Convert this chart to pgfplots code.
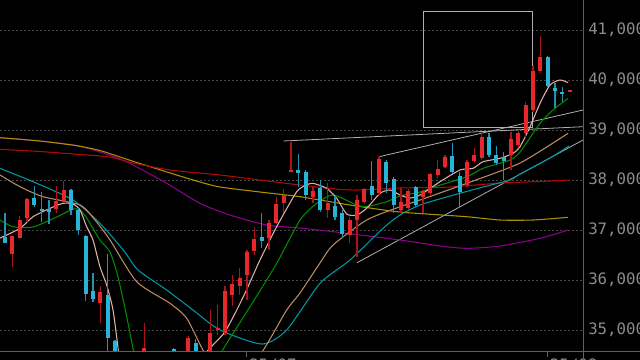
\documentclass[border=0pt]{standalone}
\usepackage{pgfplots}
\pgfplotsset{compat=1.18}
\usepackage{pgfplotstable}
\usepackage{fontspec}
\newfontfamily\labelfont{DejaVu Sans Mono}
\definecolor{candleRed}{RGB}{230,40,45}
\definecolor{wickRed}{RGB}{170,20,25}
\definecolor{candleBlue}{RGB}{40,180,215}
\definecolor{wickBlue}{RGB}{35,145,175}
\definecolor{maPink}{RGB}{225,175,165}
\definecolor{maGreen}{RGB}{0,140,0}
\definecolor{maTan}{RGB}{185,140,100}
\definecolor{maTeal}{RGB}{0,150,165}
\definecolor{maRed}{RGB}{175,10,10}
\definecolor{maYellow}{RGB}{175,145,0}
\definecolor{maPurple}{RGB}{140,0,140}
\definecolor{lineGray}{RGB}{175,175,175}
\definecolor{gridGray}{RGB}{70,70,70}
\definecolor{axGray}{RGB}{95,95,95}
\definecolor{txtGray}{RGB}{140,140,140}

\pgfplotstableread{
i O H L C
1 36514 36880 36266 36880
2 36846 37280 36834 37200
3 37234 37646 37166 37614
7 37420 37880 37334 37586
8 37566 37980 37534 37800
13 35546 35880 35134 35766
17 34000 34400 33900 34200
19 34400 35146 34300 34646
22 33900 34450 33800 34300
24 34300 34550 34200 34500
25 34500 34880 34400 34846
28 34550 35400 34450 34934
29 35000 35500 34900 35034
30 34934 35880 34900 35786
31 35700 36100 35480 35914
32 35880 36234 35700 36034
33 36100 36600 35600 36554
34 36586 37054 36500 36814
36 36834 37200 36600 37134
37 37146 37666 37120 37520
38 37546 37814 37334 37700
39 38166 38766 38160 38200
42 37666 37866 37534 37786
44 37400 37934 37234 37534
47 36900 37266 36740 37200
48 37200 37700 36466 37600
49 37566 37840 37530 37814
51 37746 38480 37700 38414
54 37400 37834 37334 37560
55 37440 37820 37400 37780
57 37666 37800 37340 37786
58 37746 38150 37700 38120
59 38100 38400 38040 38214
60 38266 38500 38240 38454
63 37900 38400 37860 38366
64 38386 38640 38340 38500
65 38434 38966 38400 38866
69 38500 38966 38200 38814
70 38700 38980 38660 38934
71 38946 39566 38866 39494
72 39400 40280 39360 40186
73 40186 40880 40146 40454
77 39780 39800 39770 39800
}\upT

\pgfplotstableread{
i O H L C
0 36854 37346 36740 36746
4 37646 37880 37466 37500
5 37420 37766 37154 37380
6 37420 37600 37120 37354
9 37800 37814 37300 37400
10 37400 37434 36900 37000
11 36886 36900 35586 35720
12 35780 36134 35566 35620
14 35700 36514 34500 34846
15 34786 34800 34300 34400
16 34400 34500 34000 34100
18 34200 34300 33800 33900
20 34500 34550 34100 34200
21 34200 34300 33700 33900
23 34620 34640 34200 34300
26 34746 34814 34400 34500
27 34500 34560 34200 34300
35 36854 37346 36634 36786
40 38200 38514 37866 38134
41 38166 38200 37600 37700
43 37834 38000 37366 37400
45 37480 37680 37200 37254
46 37334 37400 36834 36920
50 37880 38386 37600 37700
52 38366 38400 37734 37934
53 38014 38066 37334 37500
56 37854 37880 37460 37500
61 38480 38746 38134 38166
62 38080 38166 37466 37766
66 38854 38946 38460 38500
67 38500 38680 38300 38346
68 38466 38566 38000 38386
74 40466 40480 39860 39880
75 39846 39934 39434 39786
76 39766 39854 39566 39714
}\downT

\begin{document}
\begin{tikzpicture}
\clip (0,-270pt) rectangle (480pt,0pt);
\fill[black] (0,-270pt) rectangle (480pt,0pt);
\begin{axis}[
  at={(0,0)}, anchor=north west,
  scale only axis, width=437.25pt, height=263.8pt,
  xmin=-0.682, xmax=78.82, ymin=34566, ymax=41600,
  axis x line*=bottom, axis y line*=right,
  axis line style={draw=none},
  ytick={35000,36000,37000,38000,39000,40000,41000},
  yticklabels={{35,000},{36,000},{37,000},{38,000},{39,000},{40,000},{41,000}},
  xtick={33,74}, xticklabels={25/07,25/08},
  tick align=outside, major tick length=3.75pt,
  xtick style={draw=axGray, line width=0.75pt},
  ytick style={draw=none},
  tick label style={font=\labelfont\fontsize{11.8}{13}\selectfont, text=txtGray, inner sep=0pt},
  yticklabel style={anchor=west, xshift=0pt},
  xticklabel style={anchor=north west, xshift=1.5pt, yshift=-1pt},
  ymajorgrids=true,
  grid style={draw=gridGray, line width=0.6pt, dash pattern=on 1.5pt off 1.5pt},
  clip=true,
]
% drawing rectangle and trend lines
\addplot[lineGray, line width=0.6pt] coordinates {(57.07,39046) (57.07,41380) (71.86,41380) (71.86,39046) (57.07,39046)};
\addplot[lineGray, line width=0.6pt] coordinates {(37.97,38780) (78.82,39066)};
\addplot[lineGray, line width=0.6pt] coordinates {(51,38466) (78.82,39400)};
\addplot[lineGray, line width=0.6pt] coordinates {(48.0,36346) (78.82,38800)};

% moving averages
\addplot[maPurple, line width=0.8pt, smooth, tension=0.4] coordinates {(-0.68,38846) (4.77,38780) (9.78,38690) (12.95,38560) (16.6,38366) (22.05,37934) (26.59,37534) (30.68,37300) (35.69,37100) (40.23,37040) (44.77,36966) (53.87,36800) (59.32,36680) (62.96,36634) (67.5,36680) (72.96,36834) (76.78,37000)};
\addplot[maYellow, line width=0.8pt, smooth, tension=0.4] coordinates {(-0.68,38846) (4.77,38780) (9.78,38686) (12.95,38590) (16.09,38440) (18.41,38330) (23.41,38100) (26.59,37960) (29.32,37860) (34.77,37760) (40.23,37666) (47.05,37500) (53.87,37360) (62.96,37266) (67.5,37200) (72,37200) (76.78,37254)};
\addplot[maRed, line width=0.8pt, smooth, tension=0.4] coordinates {(-0.68,38614) (4.77,38570) (10.23,38510) (14.32,38460) (17.45,38340) (22.5,38200) (29.32,38100) (34.77,38000) (40.23,37900) (47.05,37800) (53.87,37840) (60.69,37860) (67.5,37940) (72.96,37970) (76.92,38000)};
\addplot[maTeal, line width=0.8pt, smooth, tension=0.4] coordinates {(-0.68,38234) (3.82,37966) (9.27,37600) (12.95,37134) (16.13,36600) (18.14,36200) (22.05,35800) (25.64,35400) (29.32,35000) (35.05,34720) (38.41,35000) (42.95,35934) (47.05,36400) (51.55,37034) (53.87,37300) (56.6,37500) (60.69,37680) (65.19,37860) (68.87,38000) (70.23,38120) (74.32,38440) (76.92,38680)};
\addplot[maTan, line width=0.8pt, smooth, tension=0.4] coordinates {(-0.68,38100) (2.05,37866) (5.18,37666) (10.23,37500) (12.27,37200) (14.32,36800) (17.96,35966) (22.5,35534) (24.78,35234) (27,34600) (28.64,34300) (32.05,34100) (35.05,34560) (38.41,35400) (40.23,35740) (42.95,36340) (44.73,36700) (49.32,37200) (53.87,37466) (56.6,37600) (62.96,37934) (70.23,38340) (76.78,38934)};
\addplot[maGreen, line width=0.8pt, smooth, tension=0.4] coordinates {(-0.68,37200) (1.09,37066) (3.82,37060) (7.05,37260) (9.27,37420) (10.23,37400) (11.14,37240) (12.95,36800) (14.32,36560) (15.41,36066) (16.6,35266) (17.5,34600) (18.41,34000) (22,33500) (26.59,33600) (28.64,34200) (29.55,34566) (33.41,35466) (37.05,36334) (40.23,37200) (42.5,37534) (44.73,37700) (47.96,37500) (49.32,37466) (52.05,37566) (53.87,37680) (56.6,37760) (58.37,37854) (62.96,38066) (65.19,38234) (68.87,38400) (70.23,38560) (72.96,39134) (74.73,39400) (76.78,39634)};
\addplot[maPink, line width=0.8pt, smooth, tension=0.4] coordinates {(-0.68,36840) (2.05,37034) (3.82,37266) (6.14,37434) (7.91,37534) (9.27,37520) (10.23,37400) (11.14,37066) (12,36800) (12.95,36266) (13.87,35900) (14.73,35400) (15.45,34600) (15.95,34000) (21,33600) (26.59,34300) (27.5,34566) (30,34966) (32.5,35666) (34.77,36400) (37.05,37066) (39.78,37766) (41.14,37900) (42,37934) (43.87,37834) (45.23,37634) (46.6,37320) (47.96,37300) (49.32,37434) (51.14,37734) (52.5,37800) (53.87,37700) (55.23,37640) (56.6,37700) (59.32,37966) (62.05,38200) (63.82,38234) (65.19,38366) (67.5,38434) (69.28,38534) (70.23,38666) (71.6,39066) (72.96,39534) (74.32,39900) (75.68,40000) (76.78,39946)};

% wicks
\addplot[draw=none, mark=none, error bars/.cd, y dir=both, y explicit, error mark=none,
  error bar style={draw=wickRed, line width=1pt}]
  table[x=i, y expr={(\thisrow{H}+\thisrow{L})/2}, y error expr={(\thisrow{H}-\thisrow{L})/2}] {\upT};
\addplot[draw=none, mark=none, error bars/.cd, y dir=both, y explicit, error mark=none,
  error bar style={draw=wickBlue, line width=1pt}]
  table[x=i, y expr={(\thisrow{H}+\thisrow{L})/2}, y error expr={(\thisrow{H}-\thisrow{L})/2}] {\downT};
% bodies
\addplot[draw=none, mark=none, error bars/.cd, y dir=both, y explicit, error mark=none,
  error bar style={draw=candleRed, line width=3.2pt}]
  table[x=i, y expr={(\thisrow{O}+\thisrow{C})/2}, y error expr={abs(\thisrow{C}-\thisrow{O})/2}] {\upT};
\addplot[draw=none, mark=none, error bars/.cd, y dir=both, y explicit, error mark=none,
  error bar style={draw=candleBlue, line width=3.2pt}]
  table[x=i, y expr={(\thisrow{O}+\thisrow{C})/2}, y error expr={abs(\thisrow{C}-\thisrow{O})/2}] {\downT};
\end{axis}
\draw[axGray, line width=0.75pt] (0,-263.8pt) -- (480pt,-263.8pt);
\draw[axGray, line width=0.75pt] (437.25pt,0) -- (437.25pt,-270pt);
\end{tikzpicture}
\end{document}
